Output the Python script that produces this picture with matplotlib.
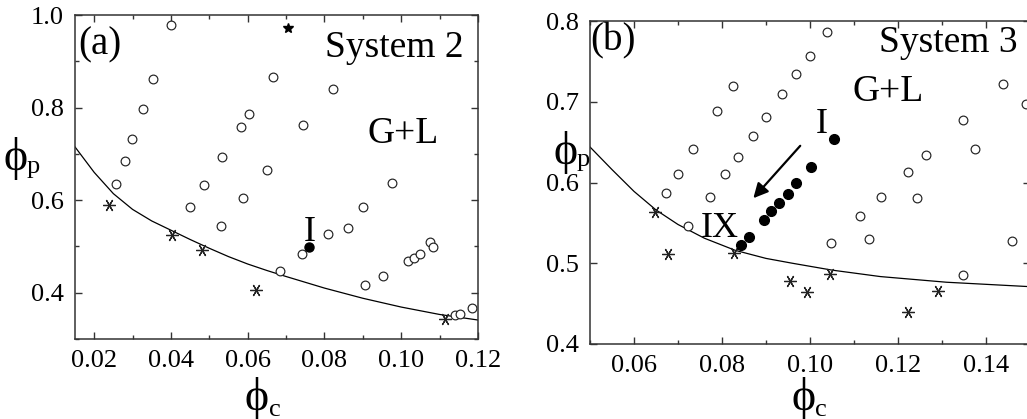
import numpy as np
import matplotlib
matplotlib.use('Agg')
import matplotlib.pyplot as plt
from matplotlib.ticker import MultipleLocator

plt.rcParams['font.family'] = ['Liberation Serif', 'DejaVu Serif']

# ---- System 2 (panel a) ----
a_open_x = [0.0399, 0.0352, 0.0326, 0.0299, 0.0279, 0.0258, 0.0450, 0.0486, 0.0533, 0.0583,
            0.0604, 0.0589, 0.0666, 0.0821, 0.0743, 0.0649, 0.0977, 0.0530, 0.0900, 0.0862,
            0.0808, 0.0742, 0.0684, 0.0952, 0.0906, 0.1017, 0.1032, 0.1050, 0.1076, 0.1084,
            0.1139, 0.1152, 0.1185]
a_open_y = [0.978, 0.862, 0.797, 0.733, 0.684, 0.634, 0.586, 0.633, 0.694, 0.758,
            0.787, 0.605, 0.867, 0.840, 0.762, 0.666, 0.636, 0.545, 0.586, 0.540,
            0.527, 0.484, 0.446, 0.437, 0.416, 0.468, 0.474, 0.483, 0.510, 0.498,
            0.352, 0.355, 0.366]
a_ast_x = [0.0239, 0.0403, 0.0480, 0.0621, 0.1113]
a_ast_y = [0.589, 0.524, 0.492, 0.406, 0.344]
a_fill_x = [0.0760]
a_fill_y = [0.499]
a_star_x = [0.0705]
a_star_y = [0.971]
a_line_x = [0.015, 0.020, 0.025, 0.030, 0.035, 0.040, 0.045, 0.050, 0.055, 0.060,
            0.065, 0.070, 0.080, 0.090, 0.100, 0.110, 0.120]
a_line_y = [0.715, 0.660, 0.614, 0.580, 0.555, 0.535, 0.515, 0.496, 0.478, 0.462,
            0.448, 0.435, 0.410, 0.388, 0.369, 0.353, 0.341]

# ---- System 3 (panel b) ----
b_open_x = [0.0825, 0.0788, 0.0734, 0.0699, 0.0673, 0.0937, 0.0901, 0.0871, 0.0836, 0.0807,
            0.0772, 0.1038, 0.1000, 0.0969, 0.1438, 0.1490, 0.1348, 0.1374, 0.1264, 0.1222,
            0.1161, 0.1243, 0.1459, 0.1114, 0.1135, 0.1047, 0.1348, 0.0722]
b_open_y = [0.720, 0.688, 0.641, 0.611, 0.587, 0.709, 0.681, 0.658, 0.632, 0.611,
            0.582, 0.786, 0.757, 0.734, 0.722, 0.697, 0.677, 0.642, 0.634, 0.613,
            0.582, 0.581, 0.527, 0.558, 0.530, 0.525, 0.486, 0.546]
b_fill_x = [0.0844, 0.0861, 0.0896, 0.0912, 0.0930, 0.0949, 0.0968, 0.1002, 0.1055]
b_fill_y = [0.522, 0.533, 0.554, 0.565, 0.575, 0.586, 0.599, 0.619, 0.654]
b_ast_x = [0.0648, 0.0677, 0.0828, 0.0954, 0.0994, 0.1045, 0.1222, 0.1291]
b_ast_y = [0.563, 0.511, 0.513, 0.478, 0.464, 0.487, 0.440, 0.466]
b_line_x = [0.050, 0.055, 0.060, 0.065, 0.070, 0.076, 0.083, 0.090, 0.096, 0.105,
            0.116, 0.131, 0.150]
b_line_y = [0.644, 0.616, 0.589, 0.566, 0.548, 0.531, 0.516, 0.506, 0.500, 0.4915,
            0.4835, 0.4765, 0.471]

fig = plt.figure(figsize=(10.27, 4.19), dpi=100)
ax1 = fig.add_axes([75/1027, 1-339/419, 403/1027, 324/419])
ax2 = fig.add_axes([590/1027, 1-344/419, 440/1027, 323/419])

ast = (6, 2, 90)


def style(ax):
    for s in ax.spines.values():
        s.set_linewidth(1.1)
        s.set_color('#333333')
    ax.tick_params(which='both', direction='in', top=True, right=True,
                   labelsize=19, color='#333333', width=1.0)
    ax.tick_params(which='major', length=5, pad=8)
    ax.tick_params(which='minor', length=3)


# panel a
ax1.plot(a_line_x, a_line_y, color='k', lw=0.9)
ax1.plot(a_open_x, a_open_y, 'o', mfc='white', mec='#222222', ms=6.3, mew=0.85)
ax1.plot(a_ast_x, a_ast_y, ls='none', marker=ast, color='#222222', ms=9, mew=0.9)
ax1.plot(a_ast_x, a_ast_y, '.', color='#222222', ms=3)
ax1.plot(a_fill_x, a_fill_y, 'o', color='k', ms=6.5)
ax1.plot(a_star_x, a_star_y, '*', color='k', ms=7)
ax1.set_xlim(0.015, 0.12)
ax1.set_ylim(0.3, 1.0)
ax1.set_xticks([0.02, 0.04, 0.06, 0.08, 0.10, 0.12])
ax1.set_xticklabels(['0.02', '0.04', '0.06', '0.08', '0.10', '0.12'])
ax1.xaxis.set_minor_locator(MultipleLocator(0.01))
ax1.set_yticks([0.4, 0.6, 0.8, 1.0])
ax1.set_yticklabels(['0.4', '0.6', '0.8', '1.0'])
ax1.yaxis.set_minor_locator(MultipleLocator(0.1))
style(ax1)
ax1.text(0.0215, 0.936, '(a)', fontsize=28, ha='center', va='center')
ax1.text(0.0801, 0.929, 'System 2', fontsize=27, ha='left', va='center')
ax1.text(0.1005, 0.743, 'G+L', fontsize=27, ha='center', va='center')
ax1.text(0.0762, 0.530, 'I', fontsize=26, ha='center', va='center')

# panel b
ax2.plot(b_line_x, b_line_y, color='k', lw=0.9)
ax2.plot(b_open_x, b_open_y, 'o', mfc='white', mec='#222222', ms=6.3, mew=0.85)
ax2.plot(b_ast_x, b_ast_y, ls='none', marker=ast, color='#222222', ms=9, mew=0.9)
ax2.plot(b_ast_x, b_ast_y, '.', color='#222222', ms=3)
ax2.plot(b_fill_x, b_fill_y, 'o', color='k', ms=7)
ax2.annotate('', xy=(0.0867, 0.578), xytext=(0.0982, 0.648),
             arrowprops=dict(arrowstyle='-|>', color='k', lw=1.6, mutation_scale=22))
ax2.set_xlim(0.05, 0.15)
ax2.set_ylim(0.4, 0.8)
ax2.set_xticks([0.06, 0.08, 0.10, 0.12, 0.14])
ax2.set_xticklabels(['0.06', '0.08', '0.10', '0.12', '0.14'])
ax2.xaxis.set_minor_locator(MultipleLocator(0.01))
ax2.set_yticks([0.4, 0.5, 0.6, 0.7, 0.8])
ax2.set_yticklabels(['0.4', '0.5', '0.6', '0.7', '0.8'])
style(ax2)
ax2.text(0.0553, 0.775, '(b)', fontsize=28, ha='center', va='center')
ax2.text(0.1157, 0.773, 'System 3', fontsize=27, ha='left', va='center')
ax2.text(0.1178, 0.713, 'G+L', fontsize=27, ha='center', va='center')
ax2.text(0.1027, 0.672, 'I', fontsize=26, ha='center', va='center')
ax2.text(0.0795, 0.543, 'IX', fontsize=26, ha='center', va='center')

# axis labels: phi with small roman subscript
phi = '\u03d5'
def label(x, y, sub, sx, sy):
    fig.text(x/1027, 1-y/419, phi, fontsize=33, ha='center', va='center')
    fig.text(sx/1027, 1-sy/419, sub, fontsize=19, ha='left', va='baseline')

label(257, 398, 'c', 269, 416)
label(804, 398, 'c', 815, 416)
label(16, 159, 'p', 27, 173)
label(566, 152, 'p', 577, 166)

fig.savefig('out.png', dpi=100)
